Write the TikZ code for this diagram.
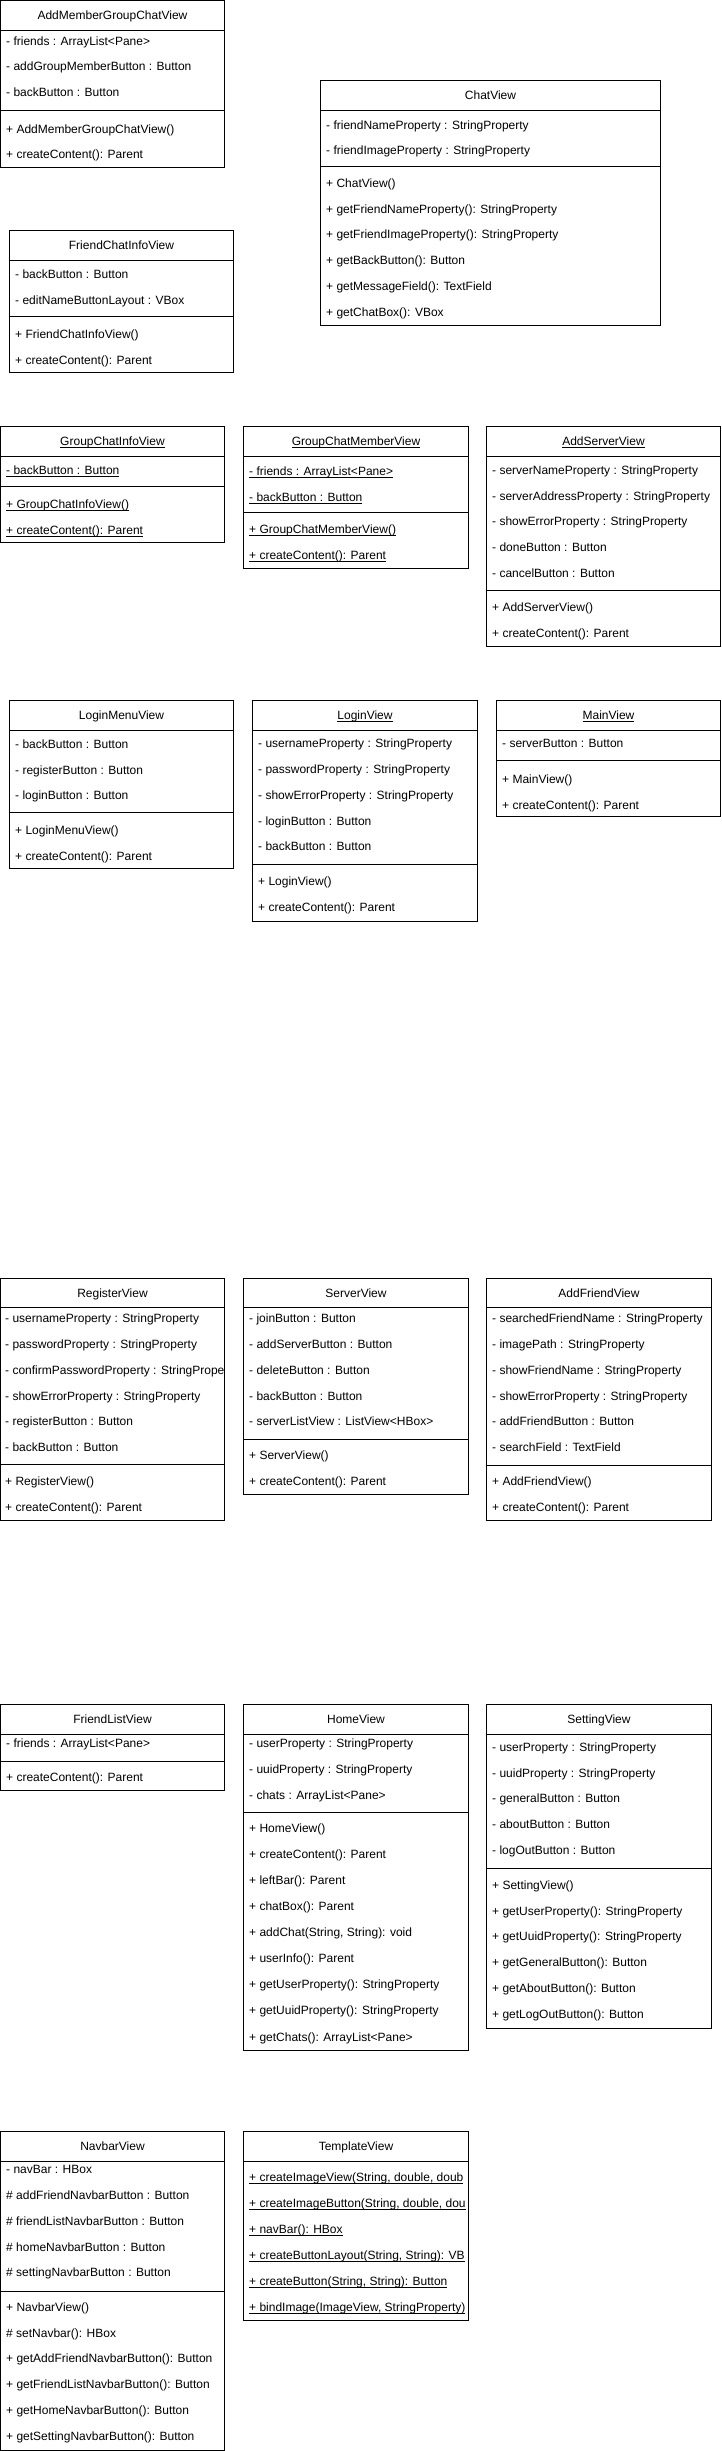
\documentclass[tikz,border=0pt]{standalone}
\usepackage{fontspec}
\setmainfont{Liberation Sans}
\usepackage{tikz}
\def\pitch{25.8}
\def\uln#1{\setbox0\hbox{#1}\rlap{\rule[-2.4pt]{\wd0}{0.9pt}}\box0}

\begin{document}
\begin{tikzpicture}[x=1pt,y=-1pt,
        box/.style={line width=1pt,draw=black},
        title/.style={anchor=base,inner sep=0pt,yshift=-4.2pt},
        row/.style={anchor=base west,inner sep=0pt,yshift=-4.2pt},
        font=\fontsize{12}{14}\selectfont]
        \useasboundingbox (0,0) rectangle (721,2451);
        \fill[white] (0,0) rectangle (721,2451);

        %%% AddMemberGroupChatView %%%
        \draw[box] (0.5,0.5) rectangle (224.5,168);
        \draw[box] (0.5,30.5)--(224.5,30.5);
        \draw[box] (0.5,111)--(224.5,111);
        \node[title] (addmember) at (112.5,15.5) {AddMemberGroupChatView};
        \foreach \txt [count=\i] in {- friends : ArrayList<Pane>, - addGroupMemberButton : Button, - backButton : Button}
            \node[row] (addmember-a\i) at (6,{41+\pitch*(\i-1)}) {\txt};
        \foreach \txt [count=\i] in {+ AddMemberGroupChatView(), + createContent(): Parent}
            \node[row] (addmember-m\i) at (6,{129+\pitch*(\i-1)}) {\txt};

        %%% ChatView %%%
        \draw[box] (320.5,80.5) rectangle (660.5,325.5);
        \draw[box] (320.5,110.5)--(660.5,110.5);
        \draw[box] (320.5,166.5)--(660.5,166.5);
        \node[title] (chatview) at (490.5,95.5) {ChatView};
        \foreach \txt [count=\i] in {- friendNameProperty : StringProperty, - friendImageProperty : StringProperty}
            \node[row] (chatview-a\i) at (326,{125+\pitch*(\i-1)}) {\txt};
        \foreach \txt [count=\i] in {+ ChatView(), + getFriendNameProperty(): StringProperty, + getFriendImageProperty(): StringProperty, + getBackButton(): Button, + getMessageField(): TextField, + getChatBox(): VBox}
            \node[row] (chatview-m\i) at (326,{183+\pitch*(\i-1)}) {\txt};

        %%% FriendChatInfoView %%%
        \draw[box] (9.5,230.5) rectangle (233.5,372.5);
        \draw[box] (9.5,260.5)--(233.5,260.5);
        \draw[box] (9.5,316.5)--(233.5,316.5);
        \node[title] (friendchatinfo) at (121.5,245.5) {FriendChatInfoView};
        \foreach \txt [count=\i] in {- backButton : Button, - editNameButtonLayout : VBox}
            \node[row] (friendchatinfo-a\i) at (15,{274+\pitch*(\i-1)}) {\txt};
        \foreach \txt [count=\i] in {+ FriendChatInfoView(), + createContent(): Parent}
            \node[row] (friendchatinfo-m\i) at (15,{334+\pitch*(\i-1)}) {\txt};

        %%% GroupChatInfoView %%%
        \draw[box] (0.5,426.5) rectangle (224.5,542.5);
        \draw[box] (0.5,456.5)--(224.5,456.5);
        \draw[box] (0.5,486.5)--(224.5,486.5);
        \node[title] (groupchatinfo) at (112.5,441.5) {\uln{GroupChatInfoView}};
        \node[row] (groupchatinfo-a1) at (6,470) {\uln{- backButton : Button}};
        \foreach \txt [count=\i] in {+ GroupChatInfoView(), + createContent(): Parent}
            \node[row] (groupchatinfo-m\i) at (6,{504+\pitch*(\i-1)}) {\uln{\txt}};

        %%% GroupChatMemberView %%%
        \draw[box] (243.5,426.5) rectangle (468.5,568.5);
        \draw[box] (243.5,456.5)--(468.5,456.5);
        \draw[box] (243.5,512.5)--(468.5,512.5);
        \node[title] (groupchatmember) at (356,441.5) {\uln{GroupChatMemberView}};
        \foreach \txt [count=\i] in {- friends : ArrayList<Pane>, - backButton : Button}
            \node[row] (groupchatmember-a\i) at (249,{471+\pitch*(\i-1)}) {\uln{\txt}};
        \foreach \txt [count=\i] in {+ GroupChatMemberView(), + createContent(): Parent}
            \node[row] (groupchatmember-m\i) at (249,{529+\pitch*(\i-1)}) {\uln{\txt}};

        %%% AddServerView %%%
        \draw[box] (486.5,426.5) rectangle (720.5,646.5);
        \draw[box] (486.5,456.5)--(720.5,456.5);
        \draw[box] (486.5,590.5)--(720.5,590.5);
        \node[title] (addserver) at (603.5,441.5) {\uln{AddServerView}};
        \foreach \txt [count=\i] in {- serverNameProperty : StringProperty, - serverAddressProperty : StringProperty, - showErrorProperty : StringProperty, - doneButton : Button, - cancelButton : Button}
            \node[row] (addserver-a\i) at (492,{470+\pitch*(\i-1)}) {\txt};
        \foreach \txt [count=\i] in {+ AddServerView(), + createContent(): Parent}
            \node[row] (addserver-m\i) at (492,{607+\pitch*(\i-1)}) {\txt};

        %%% LoginMenuView %%%
        \draw[box] (9.5,700.5) rectangle (233.5,868.5);
        \draw[box] (9.5,730.5)--(233.5,730.5);
        \draw[box] (9.5,812.5)--(233.5,812.5);
        \node[title] (loginmenu) at (121.5,715.5) {LoginMenuView};
        \foreach \txt [count=\i] in {- backButton : Button, - registerButton : Button, - loginButton : Button}
            \node[row] (loginmenu-a\i) at (15,{744+\pitch*(\i-1)}) {\txt};
        \foreach \txt [count=\i] in {+ LoginMenuView(), + createContent(): Parent}
            \node[row] (loginmenu-m\i) at (15,{830+\pitch*(\i-1)}) {\txt};

        %%% LoginView %%%
        \draw[box] (252.5,700.5) rectangle (477.5,921.5);
        \draw[box] (252.5,730.5)--(477.5,730.5);
        \draw[box] (252.5,864.5)--(477.5,864.5);
        \node[title] (loginview) at (365,715.5) {\uln{LoginView}};
        \foreach \txt [count=\i] in {- usernameProperty : StringProperty, - passwordProperty : StringProperty, - showErrorProperty : StringProperty, - loginButton : Button, - backButton : Button}
            \node[row] (loginview-a\i) at (258,{743.5+\pitch*(\i-1)}) {\txt};
        \foreach \txt [count=\i] in {+ LoginView(), + createContent(): Parent}
            \node[row] (loginview-m\i) at (258,{881+\pitch*(\i-1)}) {\txt};

        %%% MainView %%%
        \draw[box] (496.5,700.5) rectangle (720.5,816.5);
        \draw[box] (496.5,730.5)--(720.5,730.5);
        \draw[box] (496.5,760.5)--(720.5,760.5);
        \node[title] (mainview) at (608.5,715.5) {\uln{MainView}};
        \node[row] (mainview-a1) at (502,743.5) {- serverButton : Button};
        \foreach \txt [count=\i] in {+ MainView(), + createContent(): Parent}
            \node[row] (mainview-m\i) at (502,{779+\pitch*(\i-1)}) {\txt};

        %%% RegisterView %%%
        \draw[box] (0.5,1278.5) rectangle (224.5,1520.5);
        \draw[box] (0.5,1307.5)--(224.5,1307.5);
        \draw[box] (0.5,1464.5)--(224.5,1464.5);
        \node[title] (register) at (112.5,1293) {RegisterView};
        \begin{scope}
            \clip (1,1308) rectangle (223.5,1464);
            \foreach \txt [count=\i] in {- usernameProperty : StringProperty, - passwordProperty : StringProperty, - confirmPasswordProperty : StringPrope, - showErrorProperty : StringProperty, - registerButton : Button, - backButton : Button}
                \node[row] (register-a\i) at (5,{1318.5+\pitch*(\i-1)}) {\txt};
        \end{scope}
        \foreach \txt [count=\i] in {+ RegisterView(), + createContent(): Parent}
            \node[row] (register-m\i) at (5,{1481+\pitch*(\i-1)}) {\txt};

        %%% ServerView %%%
        \draw[box] (243.5,1278.5) rectangle (468.5,1494.5);
        \draw[box] (243.5,1307.5)--(468.5,1307.5);
        \draw[box] (243.5,1439.5)--(468.5,1439.5);
        \node[title] (server) at (356,1293) {ServerView};
        \foreach \txt [count=\i] in {- joinButton : Button, - addServerButton : Button, - deleteButton : Button, - backButton : Button, - serverListView : ListView<HBox>}
            \node[row] (server-a\i) at (249,{1318.5+\pitch*(\i-1)}) {\txt};
        \foreach \txt [count=\i] in {+ ServerView(), + createContent(): Parent}
            \node[row] (server-m\i) at (249,{1455.5+\pitch*(\i-1)}) {\txt};

        %%% AddFriendView %%%
        \draw[box] (486.5,1278.5) rectangle (711.5,1520.5);
        \draw[box] (486.5,1307.5)--(711.5,1307.5);
        \draw[box] (486.5,1465.5)--(711.5,1465.5);
        \node[title] (addfriend) at (599,1293) {AddFriendView};
        \foreach \txt [count=\i] in {- searchedFriendName : StringProperty, - imagePath : StringProperty, - showFriendName : StringProperty, - showErrorProperty : StringProperty, - addFriendButton : Button, - searchField : TextField}
            \node[row] (addfriend-a\i) at (492,{1318.5+\pitch*(\i-1)}) {\txt};
        \foreach \txt [count=\i] in {+ AddFriendView(), + createContent(): Parent}
            \node[row] (addfriend-m\i) at (492,{1481+\pitch*(\i-1)}) {\txt};

        %%% FriendListView %%%
        \draw[box] (0.5,1704.5) rectangle (224.5,1790.5);
        \draw[box] (0.5,1734.5)--(224.5,1734.5);
        \draw[box] (0.5,1761.5)--(224.5,1761.5);
        \node[title] (friendlist) at (112.5,1719.5) {FriendListView};
        \node[row] (friendlist-a1) at (6,1743.5) {- friends : ArrayList<Pane>};
        \node[row] (friendlist-m1) at (6,1777.5) {+ createContent(): Parent};

        %%% HomeView %%%
        \draw[box] (243.5,1704.5) rectangle (468.5,2050.5);
        \draw[box] (243.5,1734.5)--(468.5,1734.5);
        \draw[box] (243.5,1812.5)--(468.5,1812.5);
        \node[title] (home) at (356,1719.5) {HomeView};
        \foreach \txt [count=\i] in {- userProperty : StringProperty, - uuidProperty : StringProperty, - chats : ArrayList<Pane>}
            \node[row] (home-a\i) at (249,{1743.5+\pitch*(\i-1)}) {\txt};
        \foreach \txt [count=\i] in {+ HomeView(), + createContent(): Parent, + leftBar(): Parent, + chatBox(): Parent, {+ addChat(String, String): void}, + userInfo(): Parent, + getUserProperty(): StringProperty, + getUuidProperty(): StringProperty, + getChats(): ArrayList<Pane>}
            \node[row] (home-m\i) at (249,{1828+26.1*(\i-1)}) {\txt};

        %%% SettingView %%%
        \draw[box] (486.5,1704.5) rectangle (711.5,2028.5);
        \draw[box] (486.5,1734.5)--(711.5,1734.5);
        \draw[box] (486.5,1868.5)--(711.5,1868.5);
        \node[title] (setting) at (599,1719.5) {SettingView};
        \foreach \txt [count=\i] in {- userProperty : StringProperty, - uuidProperty : StringProperty, - generalButton : Button, - aboutButton : Button, - logOutButton : Button}
            \node[row] (setting-a\i) at (492,{1747+\pitch*(\i-1)}) {\txt};
        \foreach \txt [count=\i] in {+ SettingView(), + getUserProperty(): StringProperty, + getUuidProperty(): StringProperty, + getGeneralButton(): Button, + getAboutButton(): Button, + getLogOutButton(): Button}
            \node[row] (setting-m\i) at (492,{1885+\pitch*(\i-1)}) {\txt};

        %%% NavbarView %%%
        \draw[box] (0.5,2131.5) rectangle (224.5,2450);
        \draw[box] (0.5,2161.5)--(224.5,2161.5);
        \draw[box] (0.5,2291.5)--(224.5,2291.5);
        \node[title] (navbar) at (112.5,2146.5) {NavbarView};
        \foreach \txt [count=\i] in {- navBar : HBox, \# addFriendNavbarButton : Button, \# friendListNavbarButton : Button, \# homeNavbarButton : Button, \# settingNavbarButton : Button}
            \node[row] (navbar-a\i) at (6,{2169.5+\pitch*(\i-1)}) {\txt};
        \foreach \txt [count=\i] in {+ NavbarView(), \# setNavbar(): HBox, + getAddFriendNavbarButton(): Button, + getFriendListNavbarButton(): Button, + getHomeNavbarButton(): Button, + getSettingNavbarButton(): Button}
            \node[row] (navbar-m\i) at (6,{2307+\pitch*(\i-1)}) {\txt};

        %%% TemplateView %%%
        \draw[box] (243.5,2131.5) rectangle (468.5,2320.5);
        \draw[box] (243.5,2161.5)--(468.5,2161.5);
        \node[title] (template) at (356,2146.5) {TemplateView};
        \begin{scope}
            \clip (244,2162) rectangle (467.5,2320);
            \foreach \txt [count=\i] in {{+ createImageView(String, double, doub}, {+ createImageButton(String, double, dou}, + navBar(): HBox, {+ createButtonLayout(String, String): VB}, {+ createButton(String, String): Button}, {+ bindImage(ImageView, StringProperty)}}
                \node[row] (template-m\i) at (249,{2177+26*(\i-1)}) {\uln{\txt}};
        \end{scope}
    \end{tikzpicture}
\end{document}
